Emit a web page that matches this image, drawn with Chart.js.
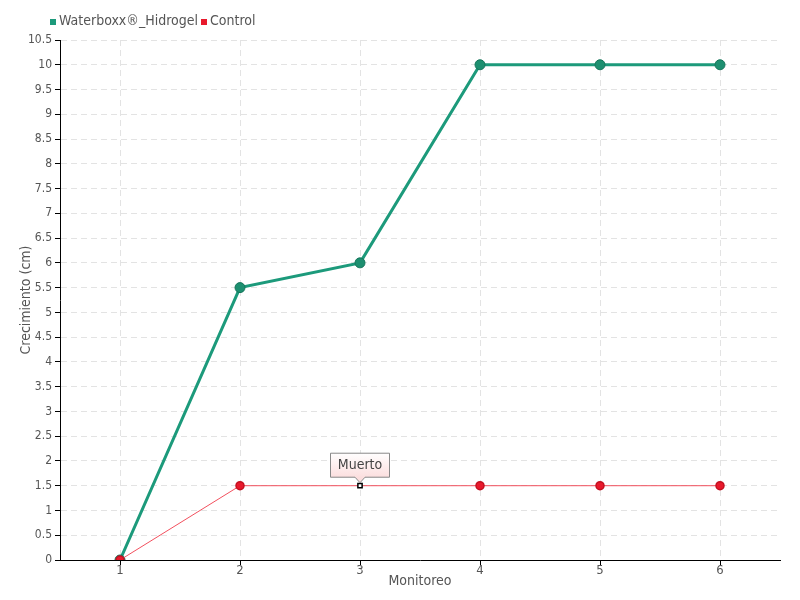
<!DOCTYPE html>
<html><head><meta charset="utf-8">
<script src="https://cdn.jsdelivr.net/npm/chart.js@4/dist/chart.umd.min.js"></script>
<style>html,body{margin:0;padding:0;background:#fff}#wrap{width:800px;height:600px}</style>
</head><body><div id="wrap"><canvas id="c" width="800" height="600"></canvas></div>
<script>
const categories = ['1','2','3','4','5','6'];
const seriesNames = ['Waterboxx®_Hidrogel','Control'];
const waterboxx = [0, 5.5, 6, 10, 10, 10];
const control = [0, 1.5, 1.5, 1.5, 1.5, 1.5];
const annotationLabel = 'Muerto';
const annotationIndex = 2;

const FONT = "'DejaVu Sans Condensed','Liberation Sans Narrow',sans-serif";
const GREEN = '#1c9a7b';
const RED = '#e8192c';

const legendPlugin = {
  id: 'customLegend',
  afterDraw(chart) {
    const ctx = chart.ctx;
    ctx.save();
    ctx.font = '14px ' + FONT;
    ctx.textBaseline = 'middle';
    let x = 50; const y = 21;
    const cols = [GREEN, RED];
    seriesNames.forEach((n, i) => {
      ctx.fillStyle = cols[i];
      ctx.fillRect(x, y - 2, 6, 6);
      ctx.fillStyle = '#555';
      ctx.fillText(n, x + 9, y);
      x += 9 + ctx.measureText(n).width + 3;
    });
    ctx.restore();
  }
};

const annotPlugin = {
  id: 'annot',
  afterDatasetsDraw(chart) {
    const ctx = chart.ctx;
    const xs = chart.scales.x, ys = chart.scales.y;
    const px = xs.getPixelForValue(annotationIndex);
    const py = ys.getPixelForValue(control[annotationIndex]);
    const w = 60, h = 25;
    const bx = px - w / 2, by = py - 8 - h;
    ctx.save();
    const g = ctx.createLinearGradient(0, by, 0, by + h);
    g.addColorStop(0, '#ffffff');
    g.addColorStop(1, '#fcdede');
    ctx.beginPath();
    ctx.moveTo(bx + 0.5, by + 0.5);
    ctx.lineTo(bx + w - 0.5, by + 0.5);
    ctx.lineTo(bx + w - 0.5, by + h - 0.5);
    ctx.lineTo(px + 5, by + h - 0.5);
    ctx.lineTo(px, py - 3);
    ctx.lineTo(px - 5, by + h - 0.5);
    ctx.lineTo(bx + 0.5, by + h - 0.5);
    ctx.closePath();
    ctx.fillStyle = g;
    ctx.fill();
    ctx.strokeStyle = '#888';
    ctx.lineWidth = 1;
    ctx.stroke();
    ctx.fillStyle = '#444';
    ctx.font = '14px ' + FONT;
    ctx.textAlign = 'center';
    ctx.textBaseline = 'middle';
    ctx.fillText(annotationLabel, px, by + h / 2);
    ctx.restore();
  }
};

const redStyles = control.map((v, i) => i === annotationIndex ? 'rect' : 'circle');
const redBg = control.map((v, i) => i === annotationIndex ? '#fff' : RED);
const redBorder = control.map((v, i) => i === annotationIndex ? '#000' : '#c41020');
const redRadius = control.map((v, i) => i === annotationIndex ? 3 : 4);

new Chart(document.getElementById('c'), {
  type: 'line',
  data: {
    labels: categories,
    datasets: [
      { label: seriesNames[0], data: waterboxx, borderColor: GREEN, borderWidth: 3,
        pointRadius: 5, pointBackgroundColor: '#1d8f70', pointBorderColor: '#16755b',
        pointBorderWidth: 1, tension: 0, order: 1 },
      { label: seriesNames[1], data: control, borderColor: '#f2505e', borderWidth: 1,
        pointRadius: redRadius, pointStyle: redStyles, pointBackgroundColor: redBg,
        pointBorderColor: redBorder, pointBorderWidth: 1.5, tension: 0, order: 0 }
    ]
  },
  options: {
    responsive: false,
    animation: false,
    layout: { padding: { top: 40, right: 20, left: 0, bottom: 0 } },
    plugins: { legend: { display: false }, tooltip: { enabled: false } },
    scales: {
      x: {
        offset: true,
        grid: { offset: false, color: '#e3e3e3', tickColor: '#000', tickLength: 5 },
        border: { color: '#000', width: 1, dash: [6, 4] },
        ticks: { color: '#555', font: { family: FONT, size: 13 }, padding: -2, maxRotation: 0 },
        title: { display: true, text: 'Monitoreo', color: '#555', font: { family: FONT, size: 14 }, padding: { top: 0, bottom: 10 } },
        afterFit(s) { s.height = 40; }
      },
      y: {
        min: 0, max: 10.5,
        grid: { color: '#e3e3e3', tickColor: '#000', tickLength: 5 },
        border: { color: '#000', width: 1, dash: [6, 4] },
        ticks: { stepSize: 0.5, color: '#555', font: { family: FONT, size: 12 }, padding: 3,
          callback: v => String(v) },
        title: { display: true, text: 'Crecimiento (cm)', color: '#555', font: { family: FONT, size: 14 }, padding: { top: 18, bottom: 0 } },
        afterFit(s) { s.width = 60; }
      }
    }
  },
  plugins: [legendPlugin, annotPlugin]
});
</script></body></html>
